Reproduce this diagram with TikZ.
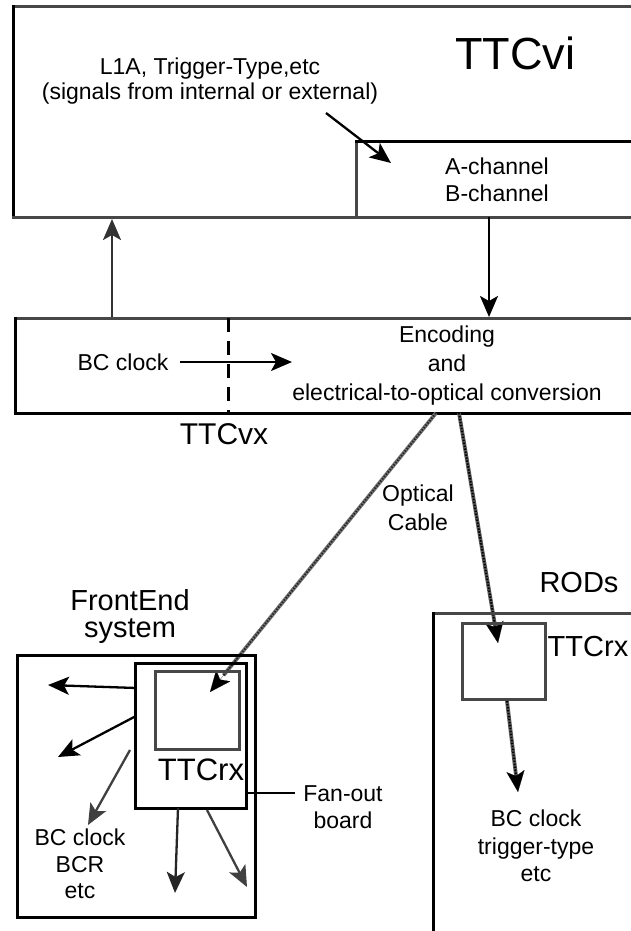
\documentclass[tikz,border=0pt]{standalone}
\usepackage{fontspec}
\setmainfont{Liberation Sans}
\usetikzlibrary{arrows.meta,calc}
\begin{document}
\begin{tikzpicture}[x=1pt,y=-1pt,
  frame/.style={line width=3pt,draw=black,line cap=rect},
  gframe/.style={line width=3pt,draw=black!72,line cap=rect},
  arr/.style={line width=2.3pt,draw=black,-{Stealth[length=21pt,width=18pt,inset=5pt]}},
  cable/.style={line width=3.8pt,draw=black!65},
  cabledots/.style={line width=2pt,draw=black,dash pattern=on 1.5pt off 1.5pt},
  cablehead/.style={line width=0.1pt,draw=black,-{Stealth[length=21pt,width=18pt,inset=5pt]}},
  lbl/.style={font=\fontsize{23}{27}\selectfont,align=center,inner sep=0pt},
  ttl/.style={inner sep=0pt,align=center}
]
\useasboundingbox (0,0) rectangle (631,931);
\fill[white] (0,0) rectangle (631,931);

% ---------- TTCvi ----------
\draw[gframe] (13,7) -- (640,7);
\draw[frame] (13,7) -- (13,217);
\draw[gframe] (13,217) -- (640,217);
\draw[gframe] (356,217) -- (356,141);
\draw[frame] (356,141) -- (640,141);
\node[ttl,font=\fontsize{45}{50}\selectfont] (ttcvi) at (515,53) {TTCvi};
\node[lbl,font=\fontsize{23}{25}\selectfont] (l1a) at (210,81) {L1A, Trigger-Type,etc\\(signals from internal or external)};
\node[lbl] (abch) at (497,180) {A-channel\\B-channel};
\coordinate (sigS) at (326,113);
\coordinate (sigE) at (391,163);
\draw[arr] (sigS) -- (sigE);

% ---------- vertical links ----------
\coordinate (upS) at (112,318);
\coordinate (upE) at (112,219);
\draw[arr,draw=black!80] (upS) -- (upE);
\coordinate (dnS) at (489,217);
\coordinate (dnE) at (489,317);
\draw[arr] (dnS) -- (dnE);

% ---------- TTCvx ----------
\draw[gframe] (15,318) -- (640,318);
\draw[frame] (15,318) -- (15,413) -- (640,413);
\draw[line width=3pt,dash pattern=on 14pt off 9pt] (228,318) -- (228,413);
\node[lbl] (bcclk) at (123,362) {BC clock};
\coordinate (bcS) at (180,362);
\coordinate (bcE) at (292,362);
\draw[arr,line width=1.9pt] (bcS) -- (bcE);
\node[lbl,font=\fontsize{23}{29}\selectfont] (enc) at (447,366) {Encoding\\and\\electrical-to-optical conversion};
\node[ttl,font=\fontsize{30}{34}\selectfont] (ttcvx) at (224,434) {TTCvx};

% ---------- cables ----------
\coordinate (ocS) at (436,413);
\coordinate (ocE) at (210,692);
\coordinate (rcS) at (459,413);
\coordinate (rcE) at (498,643);
\draw[cable,draw=black!55] (ocS) -- ($(ocS)!0.94!(ocE)$);
\draw[cabledots,draw=black!85] (ocS) -- ($(ocS)!0.94!(ocE)$);
\draw[cablehead] ($(ocS)!0.88!(ocE)$) -- (ocE);
\draw[cable] (rcS) -- ($(rcS)!0.94!(rcE)$);
\draw[cabledots] (rcS) -- ($(rcS)!0.94!(rcE)$);
\draw[cablehead] ($(rcS)!0.88!(rcE)$) -- (rcE);
\node[lbl,font=\fontsize{23}{29}\selectfont] (optc) at (418,508) {Optical\\Cable};

% ---------- FrontEnd ----------
\node[ttl,font=\fontsize{29}{27}\selectfont] (fe) at (130,616) {FrontEnd\\system};
\draw[frame] (17,655) rectangle (255,917);
\draw[frame] (135,663) rectangle (246,808);
\draw[gframe] (155,671) rectangle (239,749);
\node[ttl,font=\fontsize{31}{34}\selectfont] (ttcrxA) at (201,770) {TTCrx};
\coordinate (fo) at (246,793);
\coordinate (foL) at (295,793);
\draw[line width=2pt] (fo) -- (foL);
\node[lbl] (fanout) at (343,807) {Fan-out\\board};
\coordinate (a1S) at (136,688);  \coordinate (a1E) at (48,685);
\coordinate (a2S) at (136,716);  \coordinate (a2E) at (58,757);
\coordinate (a3S) at (130,750);  \coordinate (a3E) at (88,825);
\coordinate (a4S) at (178,808);  \coordinate (a4E) at (175,893);
\coordinate (a5S) at (207,810);  \coordinate (a5E) at (247,887);
\draw[arr] (a1S) -- (a1E);
\draw[arr] (a2S) -- (a2E);
\draw[arr,draw=black!75] (a3S) -- (a3E);
\draw[arr,draw=black!85] (a4S) -- (a4E);
\draw[arr,draw=black!75] (a5S) -- (a5E);
\node[lbl,font=\fontsize{23}{26.5}\selectfont] (feout) at (80,864) {BC clock\\BCR\\etc};

% ---------- RODs ----------
\node[ttl,font=\fontsize{29}{32}\selectfont] (rods) at (579,583) {RODs};
\draw[gframe] (433,640) -- (433,613) -- (640,613);
\draw[frame] (433,613) -- (433,940);
\draw[gframe] (462,623) rectangle (545,699);
\node[ttl,font=\fontsize{29}{32}\selectfont] (ttcrxB) at (588,647) {TTCrx};
\coordinate (r1S) at (507,701);
\coordinate (r1E) at (518,792);
\draw[cable] (r1S) -- ($(r1S)!0.88!(r1E)$);
\draw[cabledots] (r1S) -- ($(r1S)!0.88!(r1E)$);
\draw[cablehead] ($(r1S)!0.75!(r1E)$) -- (r1E);
\node[lbl,font=\fontsize{23}{27.5}\selectfont] (rodout) at (536,846) {BC clock\\trigger-type\\etc};
\end{tikzpicture}
\end{document}
